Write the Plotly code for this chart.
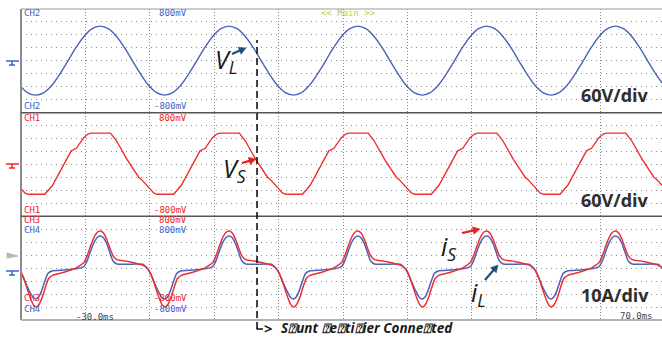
import math
import plotly.graph_objects as go
from plotly.subplots import make_subplots

# ---------------- data ----------------
# time axis in ms, amplitudes in screen divisions
time_range = [-30.0, 69.53]
connect_time = 6.65  # shunt rectifier connected (ms)

vl_t = [-30.2, -28.95, -27.7, -26.45, -25.2, -23.95, -22.7, -21.45, -20.2, -18.95,
        -17.7, -16.45, -15.2, -13.95, -12.7, -11.45, -10.2, -8.95, -7.7, -6.45,
        -5.2, -3.95, -2.7, -1.45, -0.2, 1.05, 2.3, 3.55, 4.8, 6.05,
        7.3, 8.55, 9.8, 11.05, 12.3, 13.55, 14.8, 16.05, 17.3, 18.55,
        19.8, 21.05, 22.3, 23.55, 24.8, 26.05, 27.3, 28.55, 29.8, 31.05,
        32.3, 33.55, 34.8, 36.05, 37.3, 38.55, 39.8, 41.05, 42.3, 43.55,
        44.8, 46.05, 47.3, 48.55, 49.8, 51.05, 52.3, 53.55, 54.8, 56.05,
        57.3, 58.55, 59.8, 61.05, 62.3, 63.55, 64.8, 66.05, 67.3, 68.55, 69.8]
vl_v = [-1.89, -2.47,
        -2.65, -2.45, -1.88, -1.01, 0.0, 1.03, 1.9, 2.48, 2.68, 2.48, 1.9, 1.03, 0.0, -1.01, -1.88, -2.45,
        -2.65, -2.45, -1.88, -1.01, 0.0, 1.03, 1.9, 2.48, 2.68, 2.48, 1.9, 1.03, 0.0, -1.01, -1.88, -2.45,
        -2.65, -2.45, -1.88, -1.01, 0.0, 1.03, 1.9, 2.48, 2.68, 2.48, 1.9, 1.03, 0.0, -1.01, -1.88, -2.45,
        -2.65, -2.45, -1.88, -1.01, 0.0, 1.03, 1.9, 2.48, 2.68, 2.48, 1.9, 1.03, 0.0, -1.01, -1.88, -2.45,
        -2.65, -2.45, -1.88, -1.01, 0.0, 1.03, 1.9, 2.48, 2.68, 2.48, 1.9, 1.03, 0.0, -1.01, -1.88]

vs_t = [-31.7, -31.3, -30.2, -29.4, -28.9, -26.3, -25.1, -23.6, -22.2, -21.4, -20.3, -19.6,
        -19.1, -16.1, -15.2, -13.5, -11.7, -11.3, -10.2, -9.4, -8.9, -6.3, -5.1, -3.6, -2.2, -1.4, -0.3, 0.4,
        0.9, 3.9, 4.8, 6.5, 8.3, 8.7, 9.8, 10.6, 11.1, 13.7, 14.9, 16.4, 17.8, 18.6, 19.7, 20.4,
        20.9, 23.9, 24.8, 26.5, 28.3, 28.7, 29.8, 30.6, 31.1, 33.7, 34.9, 36.4, 37.8, 38.6, 39.7, 40.4,
        40.9, 43.9, 44.8, 46.5, 48.3, 48.7, 49.8, 50.6, 51.1, 53.7, 54.9, 56.4, 57.8, 58.6, 59.7, 60.4,
        60.9, 63.9, 64.8, 66.5, 68.3, 68.7, 69.8]
vs_v = [-1.0, -1.15, -1.75, -2.2, -2.3, -2.3, -1.6, -0.2, 1.05, 1.25, 2.05, 2.35,
        2.42, 2.42, 1.85, 0.35, -1.0, -1.15, -1.75, -2.2, -2.3, -2.3, -1.6, -0.2, 1.05, 1.25, 2.05, 2.35,
        2.42, 2.42, 1.85, 0.35, -1.0, -1.15, -1.75, -2.2, -2.3, -2.3, -1.6, -0.2, 1.05, 1.25, 2.05, 2.35,
        2.42, 2.42, 1.85, 0.35, -1.0, -1.15, -1.75, -2.2, -2.3, -2.3, -1.6, -0.2, 1.05, 1.25, 2.05, 2.35,
        2.42, 2.42, 1.85, 0.35, -1.0, -1.15, -1.75, -2.2, -2.3, -2.3, -1.6, -0.2, 1.05, 1.25, 2.05, 2.35,
        2.42, 2.42, 1.85, 0.35, -1.0, -1.15, -1.75]

is_t = [-31.2, -30.4, -29.9, -29.4, -28.9, -28.4, -28.0, -27.6, -27.2, -26.7, -26.2, -25.7, -25.1, -23.2, -21.5,
        -20.7, -20.2, -19.7, -19.2, -18.7, -18.2, -17.7, -17.2, -16.7, -16.2, -15.7, -15.1, -13.2, -11.2,
        -10.4, -9.9, -9.4, -8.9, -8.4, -8.0, -7.6, -7.2, -6.7, -6.2, -5.7, -5.1, -3.2, -1.5,
        -0.7, -0.2, 0.3, 0.8, 1.3, 1.8, 2.3, 2.8, 3.3, 3.8, 4.3, 4.9, 6.8, 8.8,
        9.6, 10.1, 10.6, 11.1, 11.6, 12.0, 12.4, 12.8, 13.3, 13.8, 14.3, 14.9, 16.8, 18.5,
        19.3, 19.8, 20.3, 20.8, 21.3, 21.8, 22.3, 22.8, 23.3, 23.8, 24.3, 24.9, 26.8, 28.8,
        29.6, 30.1, 30.6, 31.1, 31.6, 32.0, 32.4, 32.8, 33.3, 33.8, 34.3, 34.9, 36.8, 38.5,
        39.3, 39.8, 40.3, 40.8, 41.3, 41.8, 42.3, 42.8, 43.3, 43.8, 44.3, 44.9, 46.8, 48.8,
        49.6, 50.1, 50.6, 51.1, 51.6, 52.0, 52.4, 52.8, 53.3, 53.8, 54.3, 54.9, 56.8, 58.5,
        59.3, 59.8, 60.3, 60.8, 61.3, 61.8, 62.3, 62.8, 63.3, 63.8, 64.3, 64.9, 66.8, 68.8, 69.6, 70.1]
is_v = [0.25, 0.0, -0.4, -1.05, -1.8, -2.5, -2.88, -2.99, -2.8, -2.25, -1.45, -0.8, -0.55, -0.3, 0.0,
        0.25, 0.45, 1.0, 1.7, 2.35, 2.75, 2.87, 2.72, 2.25, 1.55, 0.95, 0.66, 0.5, 0.25,
        0.0, -0.4, -1.05, -1.8, -2.5, -2.88, -2.99, -2.8, -2.25, -1.45, -0.8, -0.55, -0.3, 0.0,
        0.25, 0.45, 1.0, 1.7, 2.35, 2.75, 2.87, 2.72, 2.25, 1.55, 0.95, 0.66, 0.5, 0.25,
        0.0, -0.4, -1.05, -1.8, -2.5, -2.88, -2.99, -2.8, -2.25, -1.45, -0.8, -0.55, -0.3, 0.0,
        0.25, 0.45, 1.0, 1.7, 2.35, 2.75, 2.87, 2.72, 2.25, 1.55, 0.95, 0.66, 0.5, 0.25,
        0.0, -0.4, -1.05, -1.8, -2.5, -2.88, -2.99, -2.8, -2.25, -1.45, -0.8, -0.55, -0.3, 0.0,
        0.25, 0.45, 1.0, 1.7, 2.35, 2.75, 2.87, 2.72, 2.25, 1.55, 0.95, 0.66, 0.5, 0.25,
        0.0, -0.4, -1.05, -1.8, -2.5, -2.88, -2.99, -2.8, -2.25, -1.45, -0.8, -0.55, -0.3, 0.0,
        0.25, 0.45, 1.0, 1.7, 2.35, 2.75, 2.87, 2.72, 2.25, 1.55, 0.95, 0.66, 0.5, 0.25, 0.0, -0.4]

il_t = [-31.1, -30.5, -30.0, -29.5, -29.0, -28.5, -28.1, -27.7, -27.3, -26.8, -26.3, -25.8, -25.2, -23.2, -21.2,
        -20.7, -20.2, -19.7, -19.2, -18.7, -18.2, -17.7, -17.2, -16.7, -16.2, -15.7, -15.1,
        -11.1, -10.5, -10.0, -9.5, -9.0, -8.5, -8.1, -7.7, -7.3, -6.8, -6.3, -5.8, -5.2, -3.2, -1.2,
        -0.7, -0.2, 0.3, 0.8, 1.3, 1.8, 2.3, 2.8, 3.3, 3.8, 4.3, 4.9,
        8.9, 9.5, 10.0, 10.5, 11.0, 11.5, 11.9, 12.3, 12.7, 13.2, 13.7, 14.2, 14.8, 16.8, 18.8,
        19.3, 19.8, 20.3, 20.8, 21.3, 21.8, 22.3, 22.8, 23.3, 23.8, 24.3, 24.9,
        28.9, 29.5, 30.0, 30.5, 31.0, 31.5, 31.9, 32.3, 32.7, 33.2, 33.7, 34.2, 34.8, 36.8, 38.8,
        39.3, 39.8, 40.3, 40.8, 41.3, 41.8, 42.3, 42.8, 43.3, 43.8, 44.3, 44.9,
        48.9, 49.5, 50.0, 50.5, 51.0, 51.5, 51.9, 52.3, 52.7, 53.2, 53.7, 54.2, 54.8, 56.8, 58.8,
        59.3, 59.8, 60.3, 60.8, 61.3, 61.8, 62.3, 62.8, 63.3, 63.8, 64.3, 64.9, 68.9, 69.5, 70.0]
il_v = [0.30, 0.05, -0.3, -0.85, -1.45, -1.95, -2.28, -2.38, -2.25, -1.75, -1.0, -0.4, -0.22, -0.15, -0.03,
        0.02, 0.15, 0.6, 1.3, 1.95, 2.35, 2.48, 2.35, 1.9, 1.2, 0.55, 0.32,
        0.30, 0.05, -0.3, -0.85, -1.45, -1.95, -2.28, -2.38, -2.25, -1.75, -1.0, -0.4, -0.22, -0.15, -0.03,
        0.02, 0.15, 0.6, 1.3, 1.95, 2.35, 2.48, 2.35, 1.9, 1.2, 0.55, 0.32,
        0.30, 0.05, -0.3, -0.85, -1.45, -1.95, -2.28, -2.38, -2.25, -1.75, -1.0, -0.4, -0.22, -0.15, -0.03,
        0.02, 0.15, 0.6, 1.3, 1.95, 2.35, 2.48, 2.35, 1.9, 1.2, 0.55, 0.32,
        0.30, 0.05, -0.3, -0.85, -1.45, -1.95, -2.28, -2.38, -2.25, -1.75, -1.0, -0.4, -0.22, -0.15, -0.03,
        0.02, 0.15, 0.6, 1.3, 1.95, 2.35, 2.48, 2.35, 1.9, 1.2, 0.55, 0.32,
        0.30, 0.05, -0.3, -0.85, -1.45, -1.95, -2.28, -2.38, -2.25, -1.75, -1.0, -0.4, -0.22, -0.15, -0.03,
        0.02, 0.15, 0.6, 1.3, 1.95, 2.35, 2.48, 2.35, 1.9, 1.2, 0.55, 0.32, 0.30, 0.05, -0.3]

scale_labels = ["60V/div", "60V/div", "10A/div"]
event_label = "S\u2370unt \u2370e\u2370ti\u2370ier Conne\u2370ted"

BLUE = "#4a62b8"
RED = "#ee2f2f"
CH_BLUE = "#3f62c9"
CH_RED = "#f02525"

# ---------------- figure ----------------
fig = make_subplots(rows=3, cols=1, shared_xaxes=True, vertical_spacing=0)

fig.add_trace(go.Scatter(x=vl_t, y=vl_v, mode="lines", line=dict(color=BLUE, width=1.4, shape="spline", smoothing=1.0),
                         name="vL", showlegend=False, hoverinfo="skip"), row=1, col=1)
fig.add_trace(go.Scatter(x=vs_t, y=vs_v, mode="lines", line=dict(color=RED, width=1.4),
                         name="vS", showlegend=False, hoverinfo="skip"), row=2, col=1)
fig.add_trace(go.Scatter(x=il_t, y=il_v, mode="lines", line=dict(color=BLUE, width=1.5, shape="spline", smoothing=0.6),
                         name="iL", showlegend=False, hoverinfo="skip"), row=3, col=1)
fig.add_trace(go.Scatter(x=is_t, y=is_v, mode="lines", line=dict(color=RED, width=1.5, shape="spline", smoothing=0.6),
                         name="iS", showlegend=False, hoverinfo="skip"), row=3, col=1)

for r in (1, 2, 3):
    fig.update_xaxes(range=time_range, dtick=10, tick0=-30, showgrid=True, gridcolor="#8c8c8c",
                     griddash="1px,2px", gridwidth=1, showticklabels=False, zeroline=False,
                     showline=False, ticks="", row=r, col=1)
    fig.update_yaxes(range=[-4, 4], dtick=1, tick0=0, showgrid=True, gridcolor="#8c8c8c",
                     griddash="1px,4px", gridwidth=1, showticklabels=False, zeroline=False,
                     showline=False, ticks="", row=r, col=1)

L, T, B = 21, 9, 20
W, H = 662, 340
PW, PH = W - L, H - T - B


def px(x):
    return (x - L) / PW


def py(y):
    return (H - B - y) / PH


shapes = []
# frame
shapes.append(dict(type="line", xref="paper", yref="paper", x0=0, x1=0, y0=0, y1=1, line=dict(color="#8a8a8a", width=2)))
shapes.append(dict(type="line", xref="paper", yref="paper", x0=0, x1=1.01, y0=1, y1=1, line=dict(color="#9a9a9a", width=1)))
shapes.append(dict(type="line", xref="paper", yref="paper", x0=0, x1=1.01, y0=0, y1=0, line=dict(color="#9a9a9a", width=1.5)))
for yy in (1 / 3, 2 / 3):
    shapes.append(dict(type="line", xref="paper", yref="paper", x0=0, x1=1.01, y0=yy, y1=yy, line=dict(color="#555555", width=1.5)))


def ground(yc, color):
    return [
        dict(type="line", xref="paper", yref="paper", x0=px(6), x1=px(19), y0=py(yc), y1=py(yc), line=dict(color=color, width=1.5)),
        dict(type="line", xref="paper", yref="paper", x0=px(12), x1=px(12), y0=py(yc), y1=py(yc + 4), line=dict(color=color, width=1.5)),
        dict(type="line", xref="paper", yref="paper", x0=px(9), x1=px(15), y0=py(yc + 4), y1=py(yc + 4), line=dict(color=color, width=1.5)),
    ]


shapes += ground(61, CH_BLUE)
shapes += ground(164, CH_RED)
shapes += ground(271, CH_BLUE)
shapes.append(dict(type="path", xref="paper", yref="paper",
                   path=f"M {px(7)},{py(253)} L {px(18)},{py(256)} L {px(7)},{py(258)} Z",
                   fillcolor="#b8b8b8", line=dict(color="#b8b8b8", width=1)))

# event marker line
shapes.append(dict(type="line", xref="x", yref="paper", x0=connect_time, x1=connect_time, y0=py(329), y1=py(40),
                   line=dict(color="#111111", width=1.6, dash="7px,4px")))
shapes.append(dict(type="line", xref="paper", yref="paper", x0=px(256.5), x1=px(263), y0=py(329), y1=py(329),
                   line=dict(color="#111111", width=1.5)))


# arrows drawn as shapes (tail pixel -> head pixel)
def arrow(tx, ty, hx, hy, col):
    dx, dy = hx - tx, hy - ty
    n = math.hypot(dx, dy)
    ux, uy = dx / n, dy / n
    hl, hw = 7.0, 3.8
    bx, by = hx - ux * hl, hy - uy * hl
    lx, ly = bx - uy * hw, by + ux * hw
    rx, ry = bx + uy * hw, by - ux * hw
    return [
        dict(type="line", xref="paper", yref="paper", x0=px(tx), y0=py(ty), x1=px(bx + ux), y1=py(by + uy),
             line=dict(color=col, width=2.2)),
        dict(type="path", xref="paper", yref="paper",
             path=f"M {px(hx)},{py(hy)} L {px(lx)},{py(ly)} L {px(rx)},{py(ry)} Z",
             fillcolor=col, line=dict(color=col, width=0.5)),
    ]


shapes += arrow(232, 54, 246, 48, "#1f4e79")
shapes += arrow(242, 163, 256, 159, "#e42020")
shapes += arrow(462, 233, 480, 229, "#e42020")
shapes += arrow(485, 280, 498, 265, "#1f4e79")

annotations = []
MONO = "DejaVu Sans Mono"


def scope_text(text, color, x, y, anchor):
    annotations.append(dict(text=text, xref="paper", yref="paper", x=px(x), y=py(y), xanchor=anchor, yanchor="middle",
                            showarrow=False, borderpad=0, font=dict(family=MONO, size=9, color=color)))


scope_text("CH2", CH_BLUE, 23, 13, "left")
scope_text("800mV", CH_BLUE, 188, 13, "right")
scope_text("&lt;&lt; Main &gt;&gt;", "#c9c93a", 348, 13, "center")
scope_text("CH2", CH_BLUE, 23, 106.5, "left")
scope_text("-800mV", CH_BLUE, 188, 106.5, "right")
scope_text("CH1", CH_RED, 23, 118, "left")
scope_text("800mV", CH_RED, 188, 118, "right")
scope_text("CH1", CH_RED, 23, 209.5, "left")
scope_text("-800mV", CH_RED, 188, 209.5, "right")
scope_text("CH3", CH_RED, 23, 219.5, "left")
scope_text("800mV", CH_RED, 188, 219.5, "right")
scope_text("CH4", CH_BLUE, 23, 230, "left")
scope_text("800mV", CH_BLUE, 188, 230, "right")
scope_text("CH3", CH_RED, 23, 297.5, "left")
scope_text("-800mV", CH_RED, 188, 297.5, "right")
scope_text("CH4", CH_BLUE, 23, 308.5, "left")
scope_text("-800mV", CH_BLUE, 188, 308.5, "right")
scope_text("-30.0ms", "#444444", 95, 317, "center")
scope_text("70.0ms", "#444444", 619, 316, "left")

# scale labels
for lab, yc in zip(scale_labels, (95, 200, 295)):
    annotations.append(dict(text=f"<b>{lab}</b>", xref="paper", yref="paper", x=px(651), y=py(yc), xanchor="right",
                            yanchor="middle", showarrow=False, font=dict(family="Open Sans", size=18, color="#2e2e2e")))

# signal labels
SIGF = dict(family="Open Sans", size=25, color="#1a1a1a")
for txt, x, y in (("<i>V<sub>L</sub></i>", 214, 60), ("<i>V<sub>S</sub></i>", 222, 170),
                  ("<i>i<sub>S</sub></i>", 440, 247), ("<i>i<sub>L</sub></i>", 470, 293)):
    annotations.append(dict(text=txt, xref="paper", yref="paper", x=px(x), y=py(y), xanchor="left", yanchor="middle",
                            showarrow=False, borderpad=0, font=SIGF))

# event text
annotations.append(dict(text="<b>&gt;</b>", xref="paper", yref="paper", x=px(263), y=py(328), xanchor="left",
                        yanchor="middle", showarrow=False, borderpad=0, font=dict(family="Open Sans", size=15, color="#1a1a1a")))
annotations.append(dict(text=f"<b><i>{event_label}</i></b>", xref="paper", yref="paper", x=px(280), y=py(328),
                        xanchor="left", yanchor="middle", showarrow=False, borderpad=0,
                        font=dict(family="Open Sans", size=13.5, color="#1a1a1a")))

fig.update_layout(width=W, height=H, margin=dict(l=L, r=0, t=T, b=B), paper_bgcolor="white", plot_bgcolor="white",
                  shapes=shapes, annotations=annotations, showlegend=False)

fig.write_html("out.html")
